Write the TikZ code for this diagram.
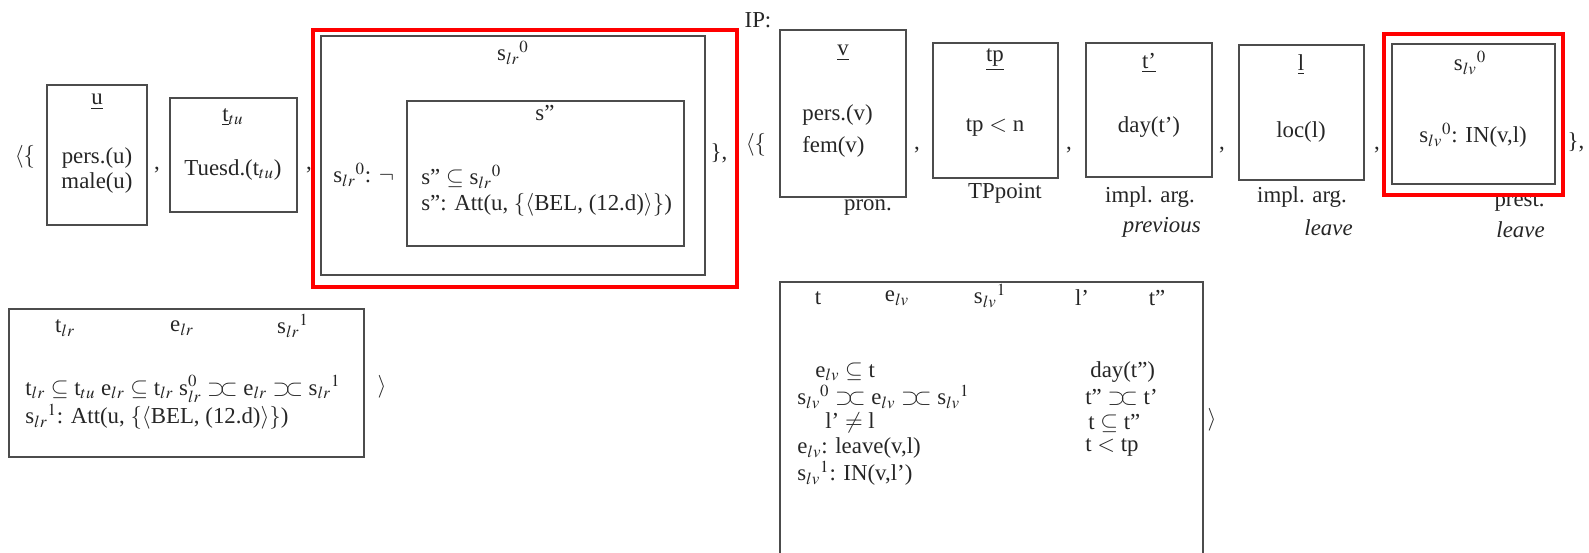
\documentclass[tikz,border=0pt]{standalone}
\usepackage{mathptmx}
\usepackage{fontspec}
\setmainfont{Liberation Serif}
\usetikzlibrary{fit}

\newcommand{\abut}{\mathrel{\supset\mkern-4mu\subset}}

\begin{document}
\begin{tikzpicture}[x=0.02cm, y=-0.02cm,
      box/.style={draw=black!70, line width=0.7pt, inner sep=0pt},
      hilite/.style={draw=red, line width=2.5pt, inner sep=0pt},
      txt/.style={inner sep=0pt, text=black!85,
          font=\fontsize{13}{13}\selectfont},
      lft/.style={txt, anchor=west},
      rgt/.style={txt, anchor=east},
    ]
    \useasboundingbox (0,0) rectangle (1589,553);
    \clip (0,0) rectangle (1589,553);

    %% ── FIRST DRS, TOP ROW ──────────────────────────────────────────────────
    \node[txt] at (25,157) (open1) {$\langle\{$};

    \node[box, fit={(47,85) (147,225)}] (boxu) {};
    \node[txt] at (97,102) (u) {\underline{u}};
    \node[txt] at (97,158) (persu) {pers.(u)};
    \node[txt] at (97,183) (maleu) {male(u)};
    \node[txt] at (157,170) (c1) {,};

    \node[box, fit={(170,98) (297,212)}] (boxt) {};
    \node[txt] at (233,117) (tlab) {\underline{t}$_{tu}$};
    \node[txt] at (233,170) (tuesd) {Tuesd.(t$_{tu}$)};
    \node[txt] at (309,170) (c2) {,};

    \node[box, fit={(321,36) (705,275)}] (boxs0) {};
    \node[txt] at (513,53) (s0lab) {s$_{lr}{}^0$};
    \node[lft] at (333,175) (neg) {s$_{lr}{}^0$: $\neg$};
    \node[box, fit={(407,101) (684,246)}] (boxs2) {};
    \node[txt] at (545,113) (s2lab) {s”};
    \node[lft] at (421,177) (sub) {s” $\subseteq$ s$_{lr}{}^0$};
    \node[lft] at (421,205) (att) {s”: Att(u, $\{\langle$BEL, (12.d)$\rangle\}$)};
    \node[txt] at (719,153) (close1) {\},};

    %% ── FIRST DRS, BOTTOM ROW ───────────────────────────────────────────────
    \node[box, fit={(9,309) (364,457)}] (boxlr) {};
    \node[txt] at (65,328) (tlr) {t$_{lr}$};
    \node[txt] at (182,328) (elr) {e$_{lr}$};
    \node[txt] at (293,326) (s1lr) {s$_{lr}{}^1$};
    \node[lft] at (25,389) (lrone)
    {t$_{lr}$ $\subseteq$ t$_{tu}$ e$_{lr}$ $\subseteq$ t$_{lr}$
    s$^0_{lr}$ $\abut$\ e$_{lr}$ $\abut$\ s$_{lr}{}^1$};
    \node[lft] at (25,417) (lrtwo) {s$_{lr}{}^1$: Att(u, $\{\langle$BEL, (12.d)$\rangle\}$)};
    \node[txt] at (382,387) (close2) {$\rangle$};

    %% ── IP, TOP ROW ─────────────────────────────────────────────────────────
    \node[txt] at (758,20) (ip) {IP:};
    \node[txt] at (756,145) (open2) {$\langle\{$};

    \node[box, fit={(780,30) (906,197)}] (boxv) {};
    \node[txt] at (843,53) (v) {\underline{v}};
    \node[lft] at (802,115) (persv) {pers.(v)};
    \node[lft] at (802,147) (femv) {fem(v)};
    \node[txt] at (868,208) (pron) {pron.};
    \node[txt] at (917,150) (c3) {,};

    \node[box, fit={(933,43) (1058,178)}] (boxtp) {};
    \node[txt] at (995,60) (tp) {\underline{tp}};
    \node[txt] at (995,128) (tpn) {tp $<$ n};
    \node[txt] at (1005,193) (tppoint) {TPpoint};
    \node[txt] at (1069,150) (c4) {,};

    \node[box, fit={(1086,43) (1212,177)}] (boxtq) {};
    \node[txt] at (1149,63) (tq) {\underline{t’}};
    \node[txt] at (1149,127) (day) {day(t’)};
    \node[txt] at (1150,197) (impla) {impl. arg.};
    \node[rgt] at (1201,227) (prev) {\itshape previous};
    \node[txt] at (1222,150) (c5) {,};

    \node[box, fit={(1239,45) (1364,180)}] (boxl) {};
    \node[txt] at (1301,65) (l) {\underline{l}};
    \node[txt] at (1301,132) (loc) {loc(l)};
    \node[txt] at (1302,197) (implb) {impl. arg.};
    \node[rgt] at (1353,228) (leavea) {\itshape leave};
    \node[txt] at (1377,150) (c6) {,};

    \node[rgt] at (1545,203) (prest) {prest.};
    \node[rgt] at (1545,230) (leaveb) {\itshape leave};
    \node[box, fit={(1392,44) (1555,184)}] (boxs0lv) {};
    \node[txt] at (1470,63) (s0lv) {s$_{lv}{}^0$};
    \node[txt] at (1473,135) (inlv) {s$_{lv}{}^0$: IN(v,l)};
    \node[txt] at (1576,142) (close3) {\},};

    %% ── IP, BOTTOM ROW ──────────────────────────────────────────────────────
    \node[box, fit={(780,282) (1203,600)}] (boxlv) {};
    \node[txt] at (818,298) (t) {t};
    \node[txt] at (897,298) (elv) {e$_{lv}$};
    \node[txt] at (990,296) (s1lv) {s$_{lv}{}^1$};
    \node[txt] at (1082,298) (lq) {l’};
    \node[txt] at (1157,298) (tqq) {t”};

    \node[lft] at (815,372) (lvone) {e$_{lv}$ $\subseteq$ t};
    \node[lft] at (797,397) (lvtwo) {s$_{lv}{}^0$ $\abut$\ e$_{lv}$ $\abut$\ s$_{lv}{}^1$};
    \node[lft] at (825,423) (lvthree) {l’ $\neq$ l};
    \node[lft] at (797,448) (lvfour) {e$_{lv}$: leave(v,l)};
    \node[lft] at (797,473) (lvfive) {s$_{lv}{}^1$: IN(v,l’)};

    \node[lft] at (1090,372) (rone) {day(t”)};
    \node[lft] at (1085,397) (rtwo) {t” $\abut$\ t’};
    \node[lft] at (1088,423) (rthree) {t $\subseteq$ t”};
    \node[lft] at (1085,448) (rfour) {t $<$ tp};
    \node[txt] at (1212,420) (close4) {$\rangle$};

    %% ── HIGHLIGHTS ──────────────────────────────────────────────────────────
    \node[hilite, fit={(313,30) (737,287)}] (redlr) {};
    \node[hilite, fit={(1384,34) (1563,195)}] (redlv) {};

  \end{tikzpicture}
\end{document}
